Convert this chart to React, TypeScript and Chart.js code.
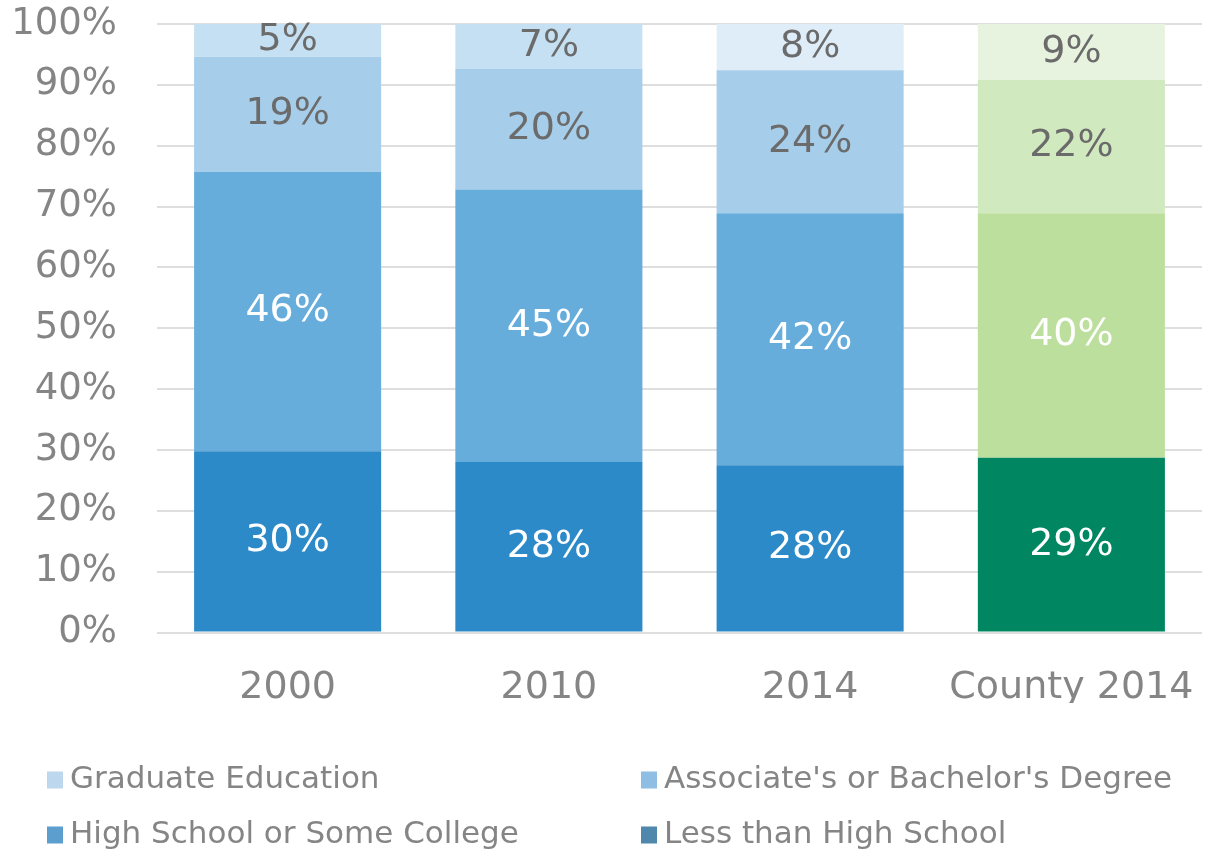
import { useEffect, useRef } from "react";
import { Chart, registerables } from "chart.js";

Chart.register(...registerables);

const categories = ["2000", "2010", "2014", "County 2014"];

const lessThanHighSchool = [29.8, 28.0, 27.5, 28.7];
const highSchoolOrSomeCollege = [45.9, 44.8, 41.4, 40.2];
const associatesOrBachelors = [18.9, 19.8, 23.5, 21.9];
const graduateEducation = [5.4, 7.4, 7.6, 9.2];

const lessThanHighSchoolLabels = ["30%", "28%", "28%", "29%"];
const highSchoolOrSomeCollegeLabels = ["46%", "45%", "42%", "40%"];
const associatesOrBachelorsLabels = ["19%", "20%", "24%", "22%"];
const graduateEducationLabels = ["5%", "7%", "8%", "9%"];

const yTicks = [0, 10, 20, 30, 40, 50, 60, 70, 80, 90, 100];

const legendNames = [
  "Graduate Education",
  "Associate's or Bachelor's Degree",
  "High School or Some College",
  "Less than High School",
];
const legendColors = ["#bdd7ee", "#8ebee3", "#5c9fcf", "#4f87ad"];

const FONT = "'DejaVu Sans', 'Open Sans', sans-serif";

const labelSets = [
  lessThanHighSchoolLabels,
  highSchoolOrSomeCollegeLabels,
  associatesOrBachelorsLabels,
  graduateEducationLabels,
];
const labelColors = ["#ffffff", "#ffffff", "#6b6b6b", "#6b6b6b"];

const dataLabelPlugin = {
  id: "segLabels",
  afterDatasetsDraw(chart: any) {
    const ctx = chart.ctx;
    ctx.save();
    ctx.font = `38px ${FONT}`;
    ctx.textAlign = "center";
    ctx.textBaseline = "middle";
    chart.data.datasets.forEach((ds: any, di: number) => {
      const meta = chart.getDatasetMeta(di);
      meta.data.forEach((el: any, i: number) => {
        const yc = (el.y + el.base) / 2;
        ctx.fillStyle = labelColors[di];
        ctx.fillText(labelSets[di][i], el.x, yc);
      });
    });
    ctx.restore();
  },
};

const legendPlugin = {
  id: "gridLegend",
  afterDraw(chart: any) {
    const ctx = chart.ctx;
    ctx.save();
    ctx.font = `31px ${FONT}`;
    ctx.textAlign = "left";
    ctx.textBaseline = "middle";
    const cols = [47, 641];
    const rows = [780, 835];
    legendNames.forEach((name, i) => {
      const x = cols[i % 2];
      const y = rows[Math.floor(i / 2)];
      ctx.fillStyle = legendColors[i];
      ctx.fillRect(x, y - 8.5, 16, 17);
      ctx.fillStyle = "#858585";
      ctx.fillText(name, x + 23, y);
    });
    ctx.restore();
  },
};

export default function App() {
  const ref = useRef<HTMLCanvasElement | null>(null);

  useEffect(() => {
    if (!ref.current) return;
    const chart = new Chart(ref.current, {
      type: "bar",
      data: {
        labels: categories,
        datasets: [
          {
            label: "Less than High School",
            data: lessThanHighSchool,
            backgroundColor: ["#2d8ac9", "#2d8ac9", "#2d8ac9", "#008761"],
          },
          {
            label: "High School or Some College",
            data: highSchoolOrSomeCollege,
            backgroundColor: ["#67addc", "#67addc", "#67addc", "#bddf9e"],
          },
          {
            label: "Associate's or Bachelor's Degree",
            data: associatesOrBachelors,
            backgroundColor: ["#a6cde9", "#a6cde9", "#a6cde9", "#d1e9bf"],
          },
          {
            label: "Graduate Education",
            data: graduateEducation,
            backgroundColor: ["#c5e0f2", "#c5e0f2", "#deedf8", "#e8f3df"],
          },
        ],
      },
      options: {
        responsive: false,
        animation: false,
        events: [],
        datasets: {
          bar: {
            categoryPercentage: 1,
            barPercentage: 0.716,
            borderWidth: 0,
          },
        },
        layout: { padding: { top: 24, right: 5, bottom: 150, left: 0 } },
        plugins: {
          legend: { display: false },
          tooltip: { enabled: false },
        },
        scales: {
          x: {
            stacked: true,
            grid: { display: false },
            border: { display: false },
            afterFit(scale: any) {
              scale.height = 70.5;
              scale.paddingLeft = 0;
              scale.paddingRight = 0;
            },
            ticks: {
              color: "#858585",
              font: { family: FONT, size: 38 },
              padding: 25,
              maxRotation: 0,
            },
          },
          y: {
            stacked: true,
            min: 0,
            max: 100,
            afterBuildTicks(scale: any) {
              scale.ticks = yTicks.map((v) => ({ value: v }));
            },
            afterFit(scale: any) {
              scale.width = 157;
              scale.paddingTop = 0;
              scale.paddingBottom = 0;
            },
            grid: { color: "#dedede", lineWidth: 2, drawTicks: false },
            border: { display: false },
            ticks: {
              color: "#858585",
              font: { family: FONT, size: 37 },
              padding: 40,
              callback: (v: any) => `${v}%`,
            },
          },
        },
      },
      plugins: [dataLabelPlugin, legendPlugin],
    });
    return () => chart.destroy();
  }, []);

  return (
    <div style={{ position: "fixed", left: 0, top: 0, width: 1207, height: 853, background: "#fff" }}>
      <canvas ref={ref} width={1207} height={853} style={{ width: 1207, height: 853, display: "block" }} />
    </div>
  );
}
